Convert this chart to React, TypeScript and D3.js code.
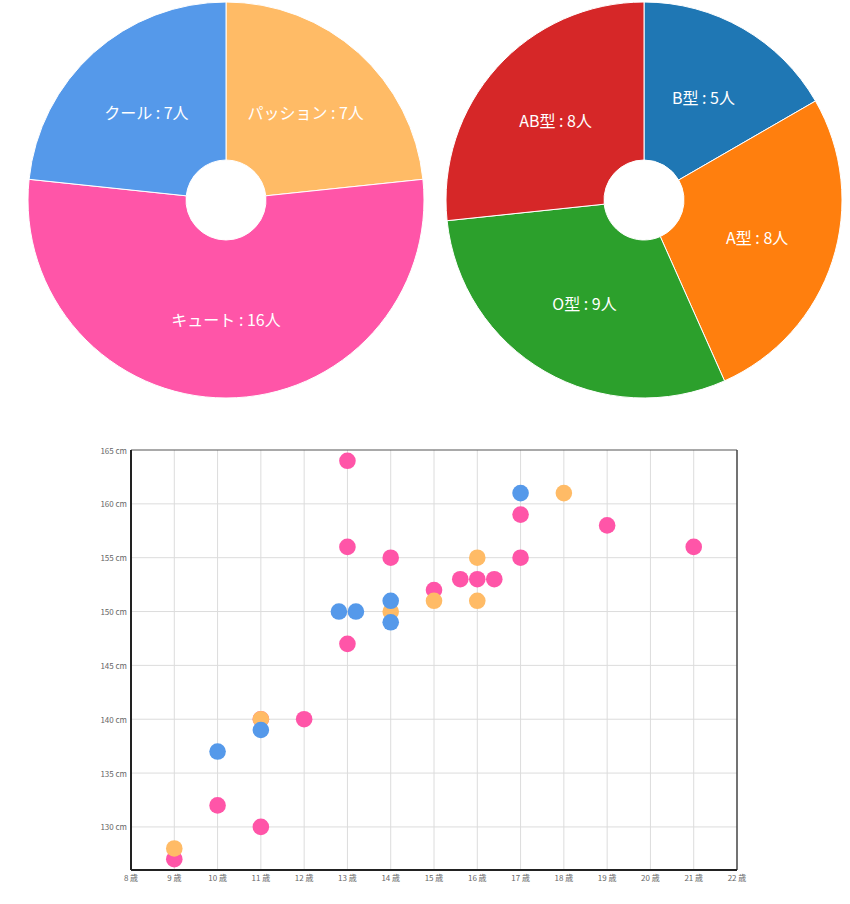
import React from "react";
import * as d3 from "d3";

const typeNames = ["パッション", "キュート", "クール"];
const typeCounts = [7, 16, 7];
const typeColors = ["#ffbb66", "#ff55a8", "#5599ea"];

const bloodNames = ["B型", "A型", "O型", "AB型"];
const bloodCounts = [5, 8, 9, 8];
const bloodColors = ["#1f77b4", "#ff7f0e", "#2ca02c", "#d62728"];

// scatter points: type index, age, height
const pointTypes = [1, 0, 1, 2, 1, 1, 0, 2, 1, 1, 1, 1, 2, 2, 1, 0, 2, 2, 1, 0, 1, 1, 1, 0, 0, 1, 1, 2, 0, 1, 1];
const pointAges = [9, 9, 10, 10, 11, 11, 11, 11, 12, 13, 13, 13, 13, 13, 14, 14, 14, 14, 15, 15, 16, 16, 16, 16, 16, 17, 17, 17, 18, 19, 21];
const pointHeights = [127, 128, 132, 137, 130, 140, 140, 139, 140, 164, 156, 147, 150, 150, 155, 150, 151, 149, 152, 151, 153, 153, 153, 155, 151, 159, 155, 161, 161, 158, 156];

const xTicks = d3.range(8, 23);
const yTicks = [130, 135, 140, 145, 150, 155, 160, 165];

function Donut({ cx, cy, names, counts, colors }) {
  const pie = d3.pie<number>().sort(null).value((d) => d);
  const arcs = pie(counts);
  const arc = d3.arc<any>().innerRadius(40).outerRadius(198);
  return (
    <g transform={`translate(${cx},${cy})`}>
      {arcs.map((a, i) => (
        <path key={i} d={arc(a) || ""} fill={colors[i]} stroke="#fff" strokeWidth={1} />
      ))}
      {arcs.map((a, i) => {
        const [x, y] = arc.centroid(a);
        return (
          <text
            key={"t" + i}
            x={x}
            y={y}
            textAnchor="middle"
            dominantBaseline="central"
            fill="#fff"
            fontSize={16}
            fontFamily="'Noto Sans CJK JP', 'Noto Sans', sans-serif"
          >
            {`${names[i]} : ${counts[i]}人`}
          </text>
        );
      })}
    </g>
  );
}

export default function App() {
  const left = 131, right = 737, top = 450, bottom = 870;
  const x = d3.scaleLinear().domain([8, 22]).range([left, right]);
  const y = d3.scaleLinear().domain([126, 165]).range([bottom, top]);

  // dodge duplicated points horizontally
  const keyCount = new Map<string, number>();
  pointAges.forEach((a, i) => {
    const k = `${a}-${pointHeights[i]}-${pointTypes[i]}`;
    keyCount.set(k, (keyCount.get(k) || 0) + 1);
  });
  const keyIdx = new Map<string, number>();
  const pts = pointAges.map((a, i) => {
    const k = `${a}-${pointHeights[i]}-${pointTypes[i]}`;
    const n = keyCount.get(k) || 1;
    const j = keyIdx.get(k) || 0;
    keyIdx.set(k, j + 1);
    const off = (j - (n - 1) / 2) * 17;
    return { cx: x(a) + off, cy: y(pointHeights[i]), c: typeColors[pointTypes[i]] };
  });

  const font = "'Noto Sans CJK JP', 'Noto Sans', sans-serif";

  return (
    <svg width={850} height={904} style={{ position: "absolute", left: 0, top: 0, background: "#fff" }}>
      <Donut cx={226} cy={200} names={typeNames} counts={typeCounts} colors={typeColors} />
      <Donut cx={644} cy={200} names={bloodNames} counts={bloodCounts} colors={bloodColors} />

      <g>
        {xTicks.slice(1, -1).map((t) => (
          <line key={"gx" + t} x1={x(t)} x2={x(t)} y1={top} y2={bottom} stroke="#dcdcdc" strokeWidth={1} />
        ))}
        {yTicks.slice(0, -1).map((t) => (
          <line key={"gy" + t} x1={left} x2={right} y1={y(t)} y2={y(t)} stroke="#dcdcdc" strokeWidth={1} />
        ))}
        <line x1={left} x2={right} y1={top} y2={top} stroke="#555" strokeWidth={1.2} />
        <line x1={right} x2={right} y1={top} y2={bottom} stroke="#444" strokeWidth={1.5} />
        <line x1={left} x2={left} y1={top} y2={bottom} stroke="#222" strokeWidth={2} />
        <line x1={left} x2={right} y1={bottom} y2={bottom} stroke="#222" strokeWidth={2} />
        {yTicks.map((t) => (
          <text key={"ty" + t} x={left - 4} y={y(t)} textAnchor="end" dominantBaseline="central" fontSize={8} fill="#666" fontFamily={font}>
            {`${t} cm`}
          </text>
        ))}
        {xTicks.map((t) => (
          <text key={"tx" + t} x={x(t)} y={bottom + 7} textAnchor="middle" dominantBaseline="central" fontSize={8} fill="#666" fontFamily={font}>
            {`${t} 歳`}
          </text>
        ))}
        {pts.map((p, i) => (
          <circle key={"p" + i} cx={p.cx} cy={p.cy} r={8.3} fill={p.c} />
        ))}
      </g>
    </svg>
  );
}
